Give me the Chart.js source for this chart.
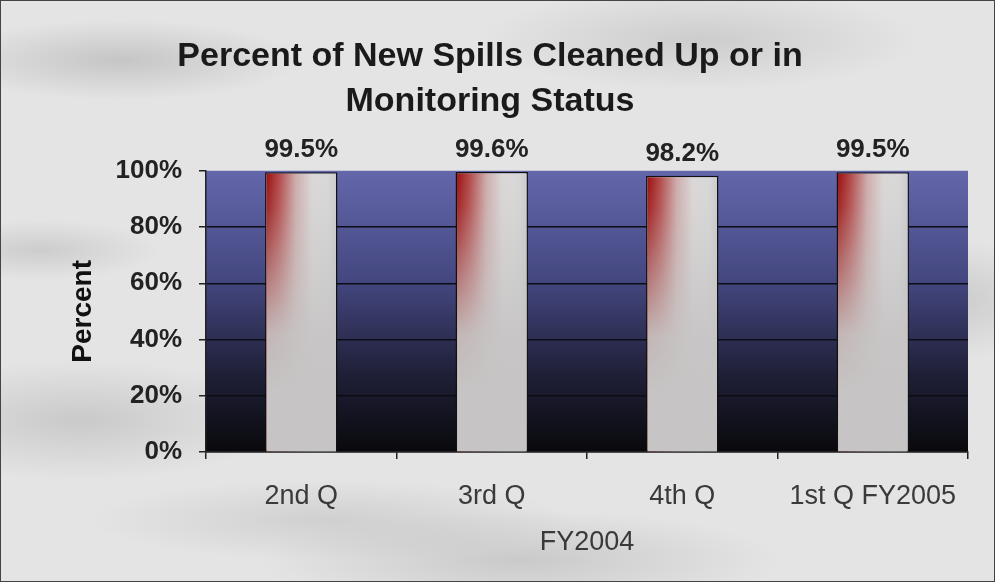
<!DOCTYPE html>
<html>
<head>
<meta charset="utf-8">
<script src="https://cdn.jsdelivr.net/npm/chart.js@4/dist/chart.umd.min.js"></script>
<style>
  html, body { margin: 0; padding: 0; }
  body {
    width: 995px; height: 582px; overflow: hidden;
    background-color: #e4e4e4;
    background-image:
      radial-gradient(ellipse 180px 40px at 120px 60px, rgba(140,140,140,0.35), transparent),
      radial-gradient(ellipse 220px 50px at 700px 40px, rgba(150,150,150,0.3), transparent),
      radial-gradient(ellipse 200px 60px at 80px 420px, rgba(140,140,140,0.3), transparent),
      radial-gradient(ellipse 260px 50px at 520px 560px, rgba(140,140,140,0.3), transparent),
      radial-gradient(ellipse 160px 60px at 930px 300px, rgba(140,140,140,0.3), transparent),
      radial-gradient(ellipse 240px 40px at 330px 520px, rgba(160,160,160,0.3), transparent),
      radial-gradient(ellipse 120px 30px at 40px 250px, rgba(150,150,150,0.3), transparent);
  }
  #wrap { position: relative; width: 993px; height: 580px; border: 1px solid #444; }
</style>
</head>
<body>
<div id="wrap"><canvas id="chart" width="993" height="580"></canvas></div>
<script>
const categories = ['2nd Q', '3rd Q', '4th Q', '1st Q FY2005']
const percentCleaned = [99.5, 99.6, 98.2, 99.5]
const yTicks = [0, 20, 40, 60, 80, 100]
const chartTitle = ['Percent of New Spills Cleaned Up or in', 'Monitoring Status']
const xTitle = 'FY2004'
const yTitle = 'Percent'

const FONT = '"Liberation Sans", Arial, sans-serif'

// plot area gradient (blue at top, black at bottom)
const plotBackground = {
	id: 'plotBackground',
	beforeDraw(chart) {
		const { ctx, chartArea: a } = chart
		const g = ctx.createLinearGradient(0, a.top, 0, a.bottom)
		g.addColorStop(0, '#6367ab')
		g.addColorStop(0.4, '#43467e')
		g.addColorStop(0.72, '#1f2038')
		g.addColorStop(1, '#09090c')
		ctx.save()
		ctx.fillStyle = g
		ctx.fillRect(a.left, a.top, a.right - a.left, a.bottom - a.top)
		ctx.restore()
	},
}

// red-to-grey shading inside each bar, then the value above it
const barFinish = {
	id: 'barFinish',
	afterDatasetsDraw(chart) {
		const { ctx } = chart
		const meta = chart.getDatasetMeta(0)
		ctx.save()
		meta.data.forEach((bar, i) => {
			const bw = bar.options.borderWidth
			const left = bar.x - bar.width / 2 + bw
			const w = bar.width - 2 * bw
			const top = bar.y + bw
			const h = bar.base - bar.y - bw

			const hg = ctx.createLinearGradient(left, 0, left + w, 0)
			hg.addColorStop(0, '#9c1212')
			hg.addColorStop(0.18, '#b44a4a')
			hg.addColorStop(0.42, '#ceacac')
			hg.addColorStop(0.65, '#dbd7d7')
			hg.addColorStop(0.88, '#d8d8d8')
			hg.addColorStop(1, '#cccccc')
			ctx.fillStyle = hg
			ctx.fillRect(left, top, w, h)

			const vg = ctx.createLinearGradient(0, top, 0, top + h)
			vg.addColorStop(0, 'rgba(198,196,196,0)')
			vg.addColorStop(0.12, 'rgba(198,196,196,0.12)')
			vg.addColorStop(0.58, 'rgba(198,196,196,0.92)')
			vg.addColorStop(0.78, 'rgba(198,196,196,1)')
			ctx.fillStyle = vg
			ctx.fillRect(left, top, w, h)

			ctx.fillStyle = '#222'
			ctx.font = 'bold 26px ' + FONT
			ctx.textAlign = 'center'
			ctx.textBaseline = 'alphabetic'
			ctx.fillText(percentCleaned[i].toFixed(1) + '%', bar.x, bar.y - 15)
		})
		ctx.restore()
	},
}

new Chart(document.getElementById('chart'), {
	type: 'bar',
	data: {
		labels: categories,
		datasets: [
			{
				data: percentCleaned,
				backgroundColor: '#c6c4c4',
				borderColor: '#111',
				borderWidth: 1.5,
				borderSkipped: false,
				barPercentage: 0.38,
				categoryPercentage: 1,
			},
		],
	},
	options: {
		responsive: false,
		animation: false,
		layout: { padding: { left: 11, right: 26, top: 0, bottom: 18 } },
		plugins: {
			legend: { display: false },
			tooltip: { enabled: false },
			title: {
				display: true,
				text: chartTitle,
				color: '#1a1a1a',
				font: { family: FONT, size: 34, weight: 'bold', lineHeight: 1.32 },
				padding: { top: 33, bottom: 47 },
			},
		},
		scales: {
			x: {
				grid: { drawOnChartArea: false, drawTicks: true, tickLength: 7, color: '#222', lineWidth: 1.5 },
				border: { color: '#222', width: 1.5 },
				ticks: {
					color: '#3a3a3a',
					padding: 21,
					font: { family: FONT, size: 27 },
				},
				title: {
					display: true,
					text: xTitle,
					color: '#3a3a3a',
					padding: { top: 0, bottom: 4 },
					font: { family: FONT, size: 27 },
				},
				afterFit(scale) { scale.height = 111 },
			},
			y: {
				min: 0,
				max: 100,
				afterBuildTicks(scale) { scale.ticks = yTicks.map((v) => ({ value: v })) },
				grid: {
					color: (c) => (c.tick && c.tick.value === 100 ? 'rgba(0,0,0,0)' : '#0c0c14'),
					tickColor: '#222',
					lineWidth: 1.5,
					tickLength: 7,
				},
				border: { color: '#222', width: 1.5 },
				ticks: {
					color: '#222',
					padding: 17,
					font: { family: FONT, size: 26, weight: 'bold' },
					callback: (v) => v + '%',
				},
				title: {
					display: true,
					text: yTitle,
					color: '#111',
					padding: { top: 54, bottom: 0 },
					font: { family: FONT, size: 28, weight: 'bold' },
				},
				afterFit(scale) { scale.width = 194 },
			},
		},
	},
	plugins: [plotBackground, barFinish],
})
</script>
</body>
</html>
